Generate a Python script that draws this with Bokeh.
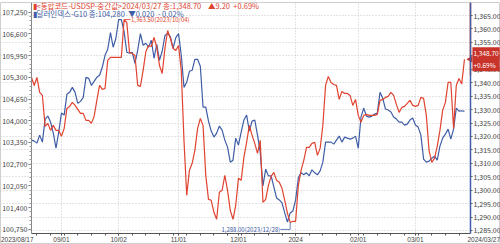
from bokeh.plotting import figure
from bokeh.models import (Range1d, LinearAxis, FixedTicker, CustomJSTickFormatter,
                          Grid, Label)
from bokeh.core.properties import value
from bokeh.embed import file_html
from bokeh.resources import INLINE

# ---------------- data (one value per trading day, 2023/08/17 .. 2024/03/27) ----
dxy = [103.42, 103.39, 103.33, 103.57, 103.36, 104.05, 104.14, 103.96, 103.63, 103.18,
       103.66, 104.23, 104.17, 104.79, 104.85, 105.00, 104.85, 104.52, 104.58, 104.70,
       105.30, 105.27, 105.06, 105.18, 105.30, 105.36, 105.60, 105.96, 106.14, 106.64,
       106.20, 106.47, 107.03, 107.03, 106.67, 106.05, 106.02, 106.05, 105.72, 106.11,
       106.61, 106.26, 106.32, 106.20, 106.41, 105.87, 106.29, 105.81, 106.08, 106.55,
       106.61, 106.52, 106.17, 106.49, 106.61, 105.96, 105.00, 105.15, 105.48, 105.51,
       105.84, 105.84, 105.63, 104.41, 104.41, 103.99, 103.69, 103.51, 103.63, 103.84,
       103.72, 103.42, 103.21, 102.76, 102.82, 103.48, 103.27, 103.66, 104.02, 104.17,
       103.69, 103.99, 104.02, 103.57, 103.06, 102.05, 102.55, 102.35, 102.35, 102.02,
       101.69, 101.63, 101.54, 101.24, 100.97, 101.24, 101.30, 101.63, 102.29, 102.44,
       102.38, 102.44, 102.35, 102.53, 102.44, 102.38, 102.50, 102.76, 103.36, 103.36,
       103.36, 103.30, 103.42, 103.54, 103.36, 103.51, 103.48, 103.45, 103.48, 103.54,
       103.18, 104.11, 104.38, 104.14, 104.11, 104.14, 104.20, 104.23, 104.85, 104.67,
       104.35, 104.32, 104.26, 104.11, 104.05, 103.96, 103.96, 103.87, 103.90, 104.02,
       104.08, 103.87, 103.81, 103.57, 102.85, 102.76, 102.79, 102.88, 102.94, 102.82,
       103.24, 103.48, 103.60, 103.75, 103.45, 103.75, 104.38, 104.29, 104.30, 104.28]

krw = [1341.95, 1338.98, 1341.95, 1336.38, 1335.26, 1323.74, 1324.86, 1322.25, 1324.11, 1322.25,
       1322.25, 1320.03, 1323.00, 1330.43, 1331.18, 1332.69, 1331.55, 1330.06, 1328.57, 1328.57,
       1325.97, 1325.97, 1324.86, 1327.46, 1333.41, 1338.98, 1337.49, 1337.87, 1348.27, 1349.39,
       1349.39, 1349.39, 1349.39, 1349.39, 1363.50, 1362.40, 1351.25, 1350.88, 1350.13, 1338.98,
       1338.61, 1344.56, 1351.62, 1353.85, 1353.48, 1356.82, 1353.11, 1346.42, 1343.44, 1352.73,
       1359.42, 1356.45, 1352.73, 1351.99, 1353.85, 1344.56, 1318.54, 1298.09, 1307.39, 1309.99,
       1314.82, 1323.00, 1326.71, 1324.11, 1305.52, 1296.60, 1296.24, 1291.78, 1289.18, 1299.21,
       1299.95, 1305.52, 1299.95, 1292.51, 1289.18, 1294.38, 1304.41, 1303.67, 1312.22, 1317.79,
       1324.11, 1320.40, 1317.42, 1313.71, 1318.54, 1295.49, 1296.60, 1301.81, 1305.16, 1306.64,
       1303.67, 1302.93, 1300.70, 1296.24, 1291.40, 1288.00, 1288.43, 1288.43, 1301.81, 1307.39,
       1311.11, 1315.94, 1315.94, 1317.42, 1317.79, 1312.96, 1315.56, 1324.11, 1338.98, 1342.33,
       1340.10, 1339.35, 1338.98, 1333.78, 1336.75, 1336.01, 1336.01, 1335.26, 1331.55, 1333.78,
       1327.83, 1325.23, 1327.83, 1328.20, 1327.83, 1327.83, 1327.83, 1328.20, 1333.41, 1333.78,
       1334.52, 1334.89, 1336.38, 1335.26, 1331.92, 1328.95, 1330.80, 1331.18, 1332.29, 1333.41,
       1331.55, 1331.18, 1331.55, 1334.52, 1334.15, 1327.83, 1314.82, 1310.36, 1311.85, 1316.31,
       1322.25, 1329.69, 1332.66, 1340.10, 1340.10, 1323.00, 1338.98, 1341.58, 1339.50, 1348.70]

x_tick_idx = [11, 32, 54, 76, 97, 120, 141]
x_tick_labels = ["09/01", "10/02", "11/01", "12/01", "2024", "02/01", "03/01"]
first_date = "2023/08/17"
last_date = "2024/03/27"
dxy_ticks = [100.75, 101.40, 102.05, 102.70, 103.35, 104.00, 104.65, 105.30, 105.95, 106.60, 107.25]
krw_ticks = [1285, 1290, 1295, 1300, 1305, 1310, 1315, 1320, 1325, 1330, 1335, 1340,
             1345, 1350, 1355, 1360, 1365]

SP = "\u00a0"
red_title = "▮<통합코드-USDSP-중간값>2024/03/27 종:1,348.70" + SP * 4 + "▲9.20" + SP * 2 + "+0.69%"
blue_title = "▮달러인덱스-G10 종:104,280" + SP * 2 + "▼0.020" + SP * 2 + "- 0.02%"
peak_note = "1,363.50(2023/10/04)"
low_note = "1,288.00(2023/12/28)"
last_note = "1,348.70\n+0.69%"

RED = "#e0432f"
BLUE = "#3f5da6"
FONT = "Noto Sans CJK KR"
NUMFONT = "Liberation Sans"
TXT = "#444444"

n = len(dxy)
idx = list(range(n))

# plot box (in data units): x from first to a little past the last day,
# y from the bottom axis up to the top edge
X0, X1 = 0, n - 1 + 2.2
DY0, DY1 = 100.624, 107.54
KY0, KY1 = 1283.88, 1369.84

# frame covers the whole canvas; axes are pinned with fixed_location
p = figure(width=500, height=244, output_backend="svg", toolbar_location=None,
           x_range=Range1d(-11.385, 172.24), y_range=Range1d(100.295, DY1),
           min_border_left=0, min_border_right=0, min_border_top=2, min_border_bottom=0)
p.extra_y_ranges = {"krw": Range1d(1279.79, KY1)}
p.outline_line_color = "#cfcfcf"
p.background_fill_color = "white"
p.border_fill_color = "white"

# x axis
xt = FixedTicker(ticks=x_tick_idx, minor_ticks=list(range(2, n, 5)))
xa = p.xaxis[0]
xa.fixed_location = DY0
xa.bounds = (X0, X1)
xa.ticker = xt
xa.major_label_overrides = {k: v for k, v in zip(x_tick_idx, x_tick_labels)}
xa.major_label_text_align = "left"
xa.major_label_text_font = NUMFONT
xa.major_label_text_font_size = "6.5px"
xa.major_label_text_color = TXT
xa.major_label_standoff = 0
xa.major_tick_out = 2
xa.major_tick_in = 0
xa.minor_tick_out = 2
xa.minor_tick_in = 0
xa.axis_line_color = "#555555"
xa.major_tick_line_color = "#555555"
xa.minor_tick_line_color = "#555555"

# left axis (dollar index)
ya = p.yaxis[0]
ya.fixed_location = X0
ya.bounds = (DY0, DY1)
ya.ticker = FixedTicker(ticks=dxy_ticks,
                        minor_ticks=[round(100.75 + 0.13 * k, 2) for k in range(51)])
ya.formatter = CustomJSTickFormatter(code="return tick.toFixed(3).replace('.', ',');")
ya.major_label_text_font = FONT
ya.major_label_text_font_size = "7px"
ya.major_label_text_color = TXT
ya.major_label_standoff = 1
ya.major_tick_out = 3
ya.major_tick_in = 0
ya.minor_tick_out = 2
ya.minor_tick_in = 0
ya.axis_line_color = "#888888"
ya.major_tick_line_color = "#666666"
ya.minor_tick_line_color = "#999999"

# right axis (USD/KRW)
rt = FixedTicker(ticks=krw_ticks)
raxis = LinearAxis(y_range_name="krw", ticker=rt, fixed_location=X1, bounds=(KY0, KY1),
                   formatter=CustomJSTickFormatter(code="return tick.toLocaleString('en-US', {minimumFractionDigits: 2, maximumFractionDigits: 2});"))
raxis.major_label_text_font = FONT
raxis.major_label_text_font_size = "7px"
raxis.major_label_text_color = TXT
raxis.major_label_standoff = 1
raxis.major_tick_out = 2
raxis.major_tick_in = 0
raxis.major_tick_line_color = "#666666"
raxis.minor_tick_line_color = None
raxis.axis_line_color = BLUE
raxis.axis_line_width = 1.5
p.add_layout(raxis, "right")

# grids
p.ygrid.visible = False
p.xgrid.ticker = xt
p.xgrid.bounds = (DY0, DY1)
p.xgrid.grid_line_color = "#c8c8c8"
p.xgrid.grid_line_dash = "1 2"
p.add_layout(Grid(dimension=1, ticker=rt, y_range_name="krw", bounds=(X0, X1),
                  grid_line_color="#c8c8c8", grid_line_dash="1 2"))

# series
p.line(idx, dxy, line_color=BLUE, line_width=1.2)
p.line(idx, krw, line_color=RED, line_width=1.2, y_range_name="krw")

# red upper part of the right edge line
p.segment(x0=[X1], x1=[X1], y0=[KY1], y1=[1342.7],
          line_color=RED, line_width=1.5, y_range_name="krw")

# peak / low notes
ip = krw.index(max(krw))
p.segment(x0=[ip], x1=[ip + 2.4], y0=[krw[ip]], y1=[krw[ip]], line_color=RED,
          line_width=0.8, y_range_name="krw")
p.text(x=[ip + 2.5], y=[krw[ip]], text=[peak_note], text_color=RED,
       text_font=value(FONT), text_font_size="6px", text_baseline="middle",
       y_range_name="krw")
il = krw.index(min(krw))
ly = krw[il] - 2.6
p.segment(x0=[il, il], x1=[il, il - 3.6], y0=[krw[il], ly], y1=[ly, ly],
          line_color=BLUE, line_width=0.8, y_range_name="krw")
p.text(x=[il - 3.7], y=[ly], text=[low_note], text_color=BLUE, text_align="right",
       text_font=value(FONT), text_font_size="6px", text_baseline="middle",
       y_range_name="krw")

# titles (top-left, inside the plot box)
p.add_layout(Label(x=X0, y=DY1, x_offset=1, y_offset=-3, text=red_title,
                   text_color=RED, text_font=FONT, text_font_size="7.5px",
                   text_baseline="middle"))
p.add_layout(Label(x=X0, y=DY1, x_offset=1, y_offset=-11, text=blue_title,
                   text_color=BLUE, text_font=FONT, text_font_size="7.5px",
                   text_baseline="middle"))

# last value box with pointer
p.scatter(x=[X1], y=[krw[-1]], marker="triangle", angle=1.5708, size=7,
          fill_color="#c8332a", line_color=None, y_range_name="krw")
p.add_layout(Label(x=X1, y=krw[-1], y_range_name="krw", x_offset=2, text=last_note,
                   text_color="white", text_font=FONT, text_font_size="6.5px",
                   text_baseline="middle", text_align="left",
                   background_fill_color="#c8332a", padding=1))

# end dates on the time axis (screen units = pixels from the frame's bottom-left)
p.add_layout(Label(x=0.5, y=9, x_units="screen", y_units="screen", text=first_date,
                   text_color=TXT, text_font=NUMFONT, text_font_size="6.5px",
                   text_baseline="top", text_align="left"))
p.add_layout(Label(x=499.5, y=9, x_units="screen", y_units="screen", text=last_date,
                   text_color=TXT, text_font=NUMFONT, text_font_size="6.5px",
                   text_baseline="top", text_align="right"))

open("out.html", "w").write(file_html(p, INLINE))
